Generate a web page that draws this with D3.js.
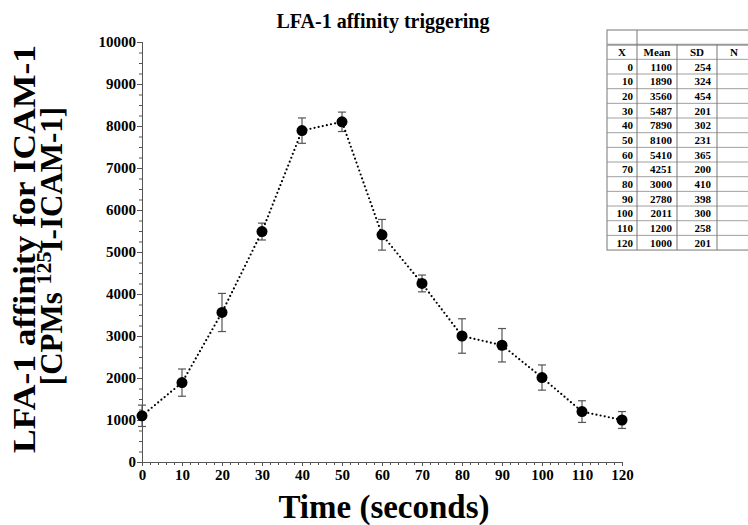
<!DOCTYPE html>
<html>
<head>
<meta charset="utf-8">
<script src="https://cdn.jsdelivr.net/npm/d3@7"></script>
<style>
  body { margin: 0; background: #fff; }
  svg { display: block; }
  text { font-family: "Liberation Serif", "Times New Roman", serif; font-weight: bold; }
</style>
</head>
<body>
<div id="chart"></div>
<script>
// time points (seconds), mean CPMs and SD
var times = [0, 10, 20, 30, 40, 50, 60, 70, 80, 90, 100, 110, 120];
var means = [1100, 1890, 3560, 5487, 7890, 8100, 5410, 4251, 3000, 2780, 2011, 1200, 1000];
var sds   = [254, 324, 454, 201, 302, 231, 365, 200, 410, 398, 300, 258, 201];
var xTicks = [0, 10, 20, 30, 40, 50, 60, 70, 80, 90, 100, 110, 120];
var yTicks = [0, 1000, 2000, 3000, 4000, 5000, 6000, 7000, 8000, 9000, 10000];
var tableHeader = ["X", "Mean", "SD", "N"];

var width = 748, height = 525;

var svg = d3.select("#chart").append("svg")
    .attr("width", width)
    .attr("height", height);

var x = d3.scaleLinear().domain([0, 120]).range([142, 622]);
var y = d3.scaleLinear().domain([0, 10000]).range([462, 42]);

var data = times.map(function(t, i) { return {x: t, mean: means[i], sd: sds[i]}; });

// axes
var xAxis = d3.axisBottom(x).tickValues(xTicks).tickSize(4).tickPadding(3).tickFormat(d3.format("d"));
var xMinor = d3.axisBottom(x).tickValues(d3.range(0, 121, 2)).tickSize(3).tickFormat("");
var yAxis = d3.axisLeft(y).tickValues(yTicks).tickSize(5).tickPadding(1).tickFormat(d3.format("d"));
var yMinor = d3.axisLeft(y).tickValues(d3.range(0, 10001, 250)).tickSize(3).tickFormat("");

function styleAxis(g) {
  g.select(".domain").attr("stroke", "#555");
  g.selectAll(".tick line").attr("stroke", "#555");
  g.selectAll(".tick text")
    .attr("fill", "#000")
    .style("font-size", "15px")
    .style("font-family", "'Liberation Serif', serif")
    .style("font-weight", "bold");
}

svg.append("g").attr("transform", "translate(0," + y(0) + ")").call(xMinor).call(styleAxis);
svg.append("g").attr("transform", "translate(0," + y(0) + ")").call(xAxis).call(styleAxis);
svg.append("g").attr("transform", "translate(" + x(0) + ",0)").call(yMinor).call(styleAxis);
svg.append("g").attr("transform", "translate(" + x(0) + ",0)").call(yAxis).call(styleAxis);

// error bars (mean +/- SD)
var eb = svg.append("g").attr("stroke", "#555").attr("stroke-width", 1.2);
data.forEach(function(d) {
  var top = y(d.mean + d.sd), bot = y(d.mean - d.sd), cx = x(d.x);
  eb.append("line").attr("x1", cx).attr("x2", cx).attr("y1", top).attr("y2", bot);
  eb.append("line").attr("x1", cx - 4).attr("x2", cx + 4).attr("y1", top).attr("y2", top);
  eb.append("line").attr("x1", cx - 4).attr("x2", cx + 4).attr("y1", bot).attr("y2", bot);
});

// dotted connecting line
var line = d3.line()
    .x(function(d) { return x(d.x); })
    .y(function(d) { return y(d.mean); });

svg.append("path")
    .datum(data)
    .attr("d", line)
    .attr("fill", "none")
    .attr("stroke", "#000")
    .attr("stroke-width", 2.2)
    .attr("stroke-linecap", "round")
    .attr("stroke-dasharray", "0,4.2");

svg.selectAll(".dot")
    .data(data)
    .enter().append("circle")
    .attr("class", "dot")
    .attr("cx", function(d) { return x(d.x); })
    .attr("cy", function(d) { return y(d.mean); })
    .attr("r", 5.5)
    .attr("fill", "#000");

// title and axis labels
svg.append("text")
    .attr("x", 383).attr("y", 28)
    .attr("text-anchor", "middle")
    .style("font-size", "20px")
    .text("LFA-1 affinity triggering");

svg.append("text")
    .attr("x", 384).attr("y", 518)
    .attr("text-anchor", "middle")
    .style("font-size", "33px")
    .text("Time (seconds)");

svg.append("text")
    .attr("transform", "translate(35,249) rotate(-90)")
    .attr("text-anchor", "middle")
    .attr("textLength", 408)
    .attr("lengthAdjust", "spacingAndGlyphs")
    .style("font-size", "32px")
    .text("LFA-1 affinity for ICAM-1");

var yl2 = svg.append("text")
    .attr("transform", "translate(62,246) rotate(-90)")
    .attr("text-anchor", "middle")
    .style("font-size", "31px");
yl2.append("tspan").text("[CPMs ");
yl2.append("tspan").attr("dy", -11).style("font-size", "22px").text("125");
yl2.append("tspan").attr("dy", 11).text("I-ICAM-1]");

// data table
var tx = 607, ty = 30, rowH = 14.67;
var colX = [607, 637, 677, 717, 760];
var tbl = svg.append("g");
var nRows = times.length + 2;
var tBottom = ty + rowH * nRows;

tbl.append("rect")
    .attr("x", tx).attr("y", ty)
    .attr("width", 760 - tx).attr("height", rowH * nRows)
    .attr("fill", "none").attr("stroke", "#777");

for (var r = 1; r < nRows; r++) {
  tbl.append("line")
      .attr("x1", tx).attr("x2", 760)
      .attr("y1", ty + r * rowH).attr("y2", ty + r * rowH)
      .attr("stroke", r === 1 ? "#999" : "#888")
      .attr("stroke-width", r === 1 ? 2 : 0.8);
}
tbl.append("line")
    .attr("x1", colX[1]).attr("x2", colX[1])
    .attr("y1", ty).attr("y2", tBottom)
    .attr("stroke", "#777");
[2, 3].forEach(function(c) {
  tbl.append("line")
      .attr("x1", colX[c]).attr("x2", colX[c])
      .attr("y1", ty + rowH).attr("y2", tBottom)
      .attr("stroke", "#777");
});

tableHeader.forEach(function(h, i) {
  tbl.append("text")
      .attr("x", i < 3 ? (colX[i] + colX[i + 1]) / 2 : 734)
      .attr("y", ty + rowH * 2 - 3.5)
      .attr("text-anchor", "middle")
      .style("font-size", "11px")
      .text(h);
});

data.forEach(function(d, i) {
  var by = ty + rowH * (i + 3) - 3.5;
  tbl.append("text").attr("x", colX[1] - 4).attr("y", by)
      .attr("text-anchor", "end").style("font-size", "11px").text(d.x);
  tbl.append("text").attr("x", colX[2] - 5).attr("y", by)
      .attr("text-anchor", "end").style("font-size", "11px").text(d.mean);
  tbl.append("text").attr("x", colX[3] - 6).attr("y", by)
      .attr("text-anchor", "end").style("font-size", "11px").text(d.sd);
});
</script>
</body>
</html>
